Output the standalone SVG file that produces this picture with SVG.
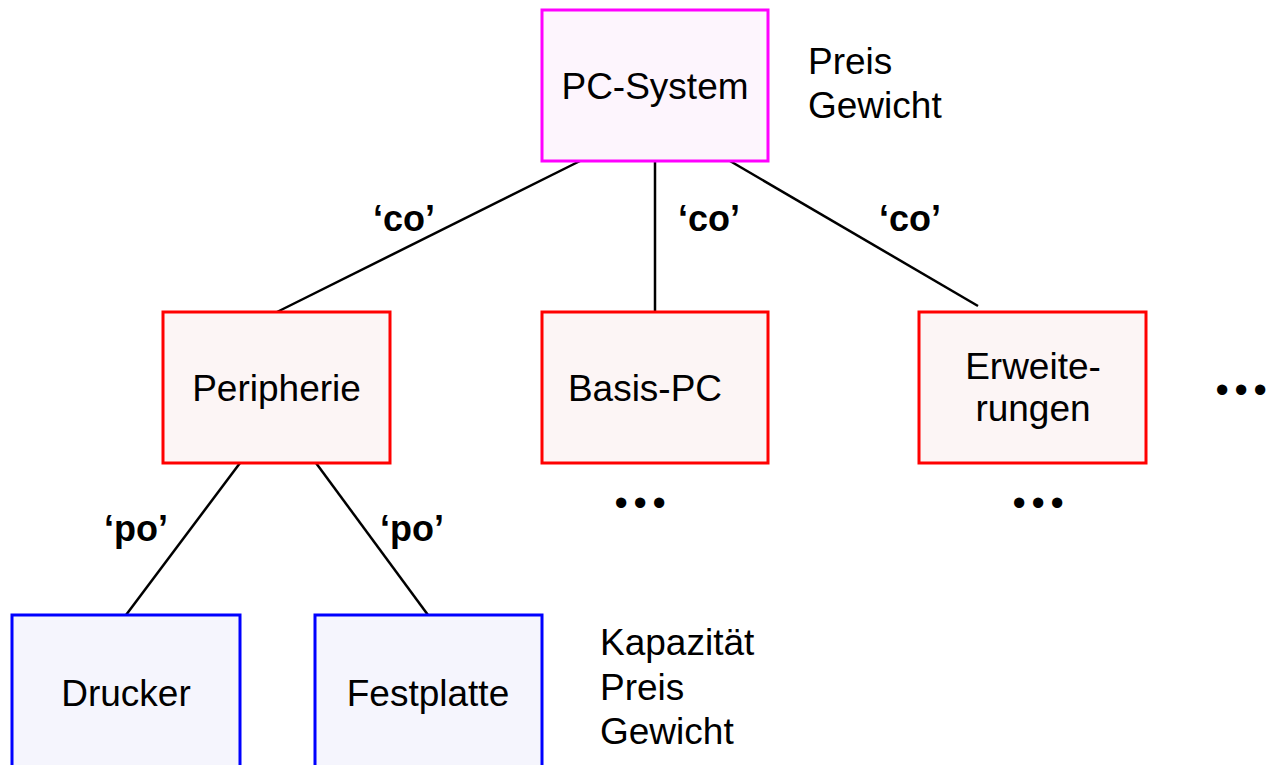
<svg xmlns="http://www.w3.org/2000/svg" width="1271" height="765" viewBox="0 0 1271 765">
<style>
text{font-family:"Liberation Sans",Arial,sans-serif;fill:#000}
.n{font-size:37px;text-anchor:middle}
.a{font-size:37px}
.l{font-size:36px;font-weight:bold;text-anchor:middle}
.d{font-size:38px;text-anchor:middle;letter-spacing:5.7px}
.top{fill:#FDF5FD;stroke:#FF00FF;stroke-width:3}
.mid{fill:#FCF5F5;stroke:#FF0000;stroke-width:3}
.bot{fill:#F5F5FD;stroke:#0000FF;stroke-width:3}
.c{stroke:#000;stroke-width:2.5;fill:none}
</style>
<rect width="1271" height="765" fill="#fff"/>
<g id="connectors">
<line class="c" x1="580" y1="161" x2="277" y2="312"/>
<line class="c" x1="655" y1="161" x2="655" y2="312"/>
<line class="c" x1="730" y1="161" x2="978" y2="306"/>
<line class="c" x1="240" y1="463" x2="126" y2="615"/>
<line class="c" x1="316" y1="463" x2="428" y2="615"/>
<text class="l" x="404" y="231">‘co’</text>
<text class="l" x="709" y="231">‘co’</text>
<text class="l" x="910" y="231">‘co’</text>
<text class="l" x="136" y="541">‘po’</text>
<text class="l" x="412" y="541">‘po’</text>
</g>
<g id="pc-system">
<rect class="top" x="542" y="10" width="226" height="151"/>
<text class="n" x="655" y="99">PC-System</text>
</g>
<g id="pc-attrs">
<text class="a" x="808" y="74">Preis</text>
<text class="a" x="808" y="118">Gewicht</text>
</g>
<g id="peripherie">
<rect class="mid" x="163" y="312" width="227" height="151"/>
<text class="n" x="276.5" y="401">Peripherie</text>
</g>
<g id="basis-pc">
<rect class="mid" x="542" y="312" width="226" height="151"/>
<text class="n" x="645" y="401">Basis-PC</text>
</g>
<g id="erweiterungen">
<rect class="mid" x="919" y="312" width="227" height="151"/>
<text class="n" x="1033" y="379">Erweite-</text>
<text class="n" x="1033" y="421">rungen</text>
</g>
<g id="drucker">
<rect class="bot" x="12" y="615" width="228" height="160"/>
<text class="n" x="126" y="706">Drucker</text>
</g>
<g id="festplatte">
<rect class="bot" x="315" y="615" width="227" height="160"/>
<text class="n" x="428" y="706">Festplatte</text>
</g>
<g id="festplatte-attrs">
<text class="a" x="600" y="655">Kapazität</text>
<text class="a" x="600" y="700">Preis</text>
<text class="a" x="600" y="744">Gewicht</text>
</g>
<g id="dots">
<text class="d" x="1244" y="403">•••</text>
<text class="d" x="643" y="516">•••</text>
<text class="d" x="1041" y="516">•••</text>
</g>
</svg>
